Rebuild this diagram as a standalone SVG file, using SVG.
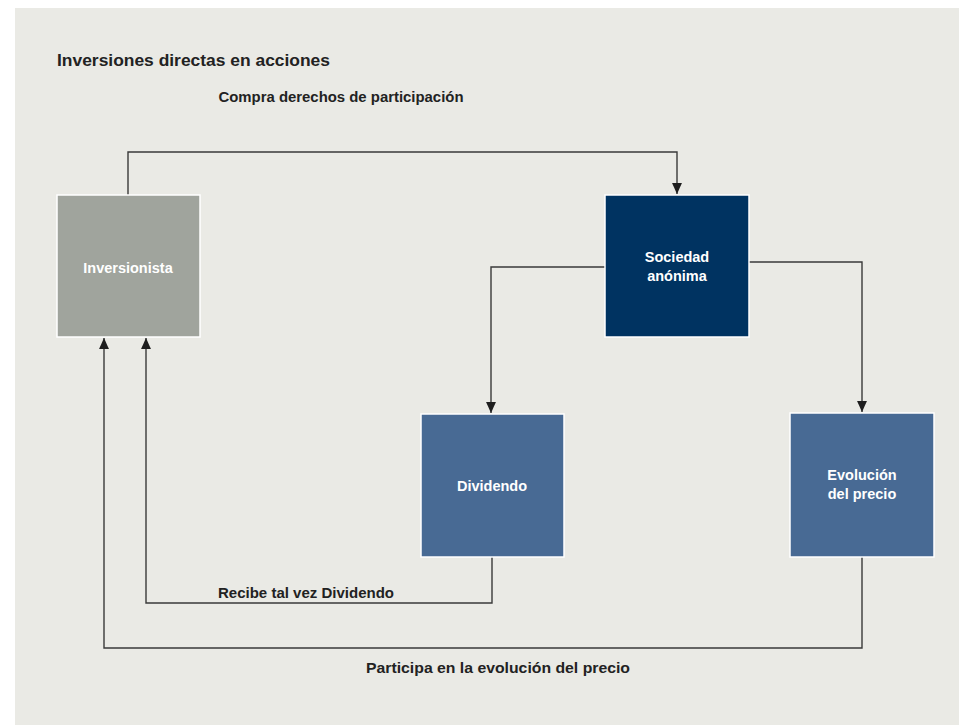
<svg xmlns="http://www.w3.org/2000/svg" width="959" height="725" viewBox="0 0 959 725">
<style>
.lbl{font-family:"Liberation Sans",Arial,sans-serif;font-weight:bold;font-size:14px;fill:#222;text-anchor:middle}
.ntx{font-family:"Liberation Sans",Arial,sans-serif;font-weight:bold;font-size:14.5px;fill:#fff;text-anchor:middle}
.box{stroke:#fff;stroke-width:1.5}
.con{fill:none;stroke:#3a3a3a;stroke-width:1.4}
</style>
<defs>
<marker id="ah" viewBox="0 0 10 10" refX="10" refY="5" markerWidth="11" markerHeight="11" markerUnits="userSpaceOnUse" orient="auto">
<path d="M0,0.5 L10,5 L0,9.5 Z" fill="#1e1e1e"/>
</marker>
</defs>
<rect x="15" y="8" width="944" height="717" fill="#eaeae5"/>
<text x="57" y="66" font-family="'Liberation Sans',Arial,sans-serif" font-weight="bold" font-size="16.5" fill="#222" textLength="273" lengthAdjust="spacingAndGlyphs">Inversiones directas en acciones</text>
<g id="connectors">
<path class="con" d="M128,195 V152 H677 V194" marker-end="url(#ah)"/>
<path class="con" d="M605,267 H491 V413" marker-end="url(#ah)"/>
<path class="con" d="M749,262 H862 V412" marker-end="url(#ah)"/>
<path class="con" d="M492,557 V603 H146 V338" marker-end="url(#ah)"/>
<path class="con" d="M862,557 V648 H104 V338" marker-end="url(#ah)"/>
<text class="lbl" x="341" y="102" textLength="245" lengthAdjust="spacingAndGlyphs">Compra derechos de participación</text>
<text class="lbl" x="306" y="598" textLength="176" lengthAdjust="spacingAndGlyphs">Recibe tal vez Dividendo</text>
<text class="lbl" x="498" y="673" textLength="264" lengthAdjust="spacingAndGlyphs">Participa en la evolución del precio</text>
</g>
<g id="inversionista">
<rect class="box" x="57" y="195" width="143" height="142" fill="#a0a49d"/>
<text class="ntx" x="128" y="273">Inversionista</text>
</g>
<g id="sociedad">
<rect class="box" x="605" y="195" width="144" height="142" fill="#003361"/>
<text class="ntx" x="677" y="262">Sociedad</text>
<text class="ntx" x="677" y="281">anónima</text>
</g>
<g id="dividendo">
<rect class="box" x="421" y="414" width="143" height="143" fill="#486a94"/>
<text class="ntx" x="492" y="491">Dividendo</text>
</g>
<g id="evolucion">
<rect class="box" x="790" y="413" width="144" height="144" fill="#486a94"/>
<text class="ntx" x="862" y="480">Evolución</text>
<text class="ntx" x="862" y="499">del precio</text>
</g>
</svg>
